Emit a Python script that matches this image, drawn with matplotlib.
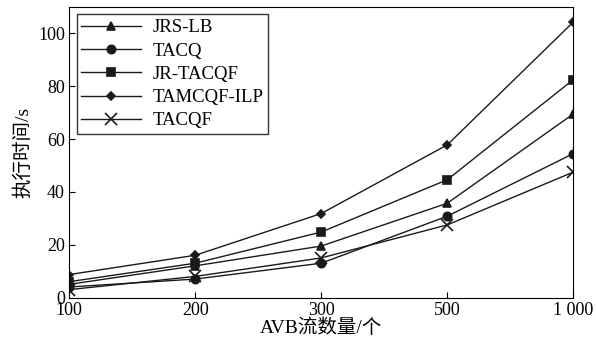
import numpy as np
import matplotlib.pyplot as plt

plt.rcParams['font.family'] = ['Liberation Serif', 'Noto Sans CJK SC']

flows = ["100", "200", "300", "500", "1 000"]
jrs_lb = [5, 12, 19.5, 35.7, 69.5]
tacq = [4, 7, 13, 30.8, 54.5]
jr_tacqf = [6, 13, 24.8, 44.6, 82.5]
tamcqf_ilp = [8.7, 16, 31.8, 57.8, 104.3]
tacqf = [3, 8, 15, 27.5, 47.5]

series = [
    ("JRS-LB", jrs_lb, "^", 6),
    ("TACQ", tacq, "o", 6),
    ("JR-TACQF", jr_tacqf, "s", 6),
    ("TAMCQF-ILP", tamcqf_ilp, "D", 4.5),
    ("TACQF", tacqf, "x", 8),
]

fig, ax = plt.subplots(figsize=(5.96, 3.46), dpi=100)
x = np.arange(len(flows))
for name, vals, mk, ms in series:
    ax.plot(x, vals, color="#1a1a1a", lw=1.0, marker=mk, markersize=ms,
            markeredgewidth=1.2, label=name)

ax.set_xlim(0, len(flows) - 1)
ax.set_ylim(0, 110)
ax.set_xticks(x)
ax.set_xticklabels(flows)
ax.set_yticks([0, 20, 40, 60, 80, 100])
ax.tick_params(direction="in", labelsize=13, length=4, pad=3)
ax.set_xlabel("AVB流数量/个", fontsize=14, labelpad=0)
ax.set_ylabel("执行时间/s", fontsize=14, labelpad=4)

leg = ax.legend(loc="upper left", fontsize=13.5, handlelength=3.2, frameon=True,
                fancybox=False, edgecolor="black", borderpad=0.25,
                labelspacing=0.33, handletextpad=0.6, borderaxespad=0.4)
leg.get_frame().set_linewidth(1.0)

plt.subplots_adjust(left=0.116, right=0.962, top=0.98, bottom=0.14)
plt.savefig("out.png")
